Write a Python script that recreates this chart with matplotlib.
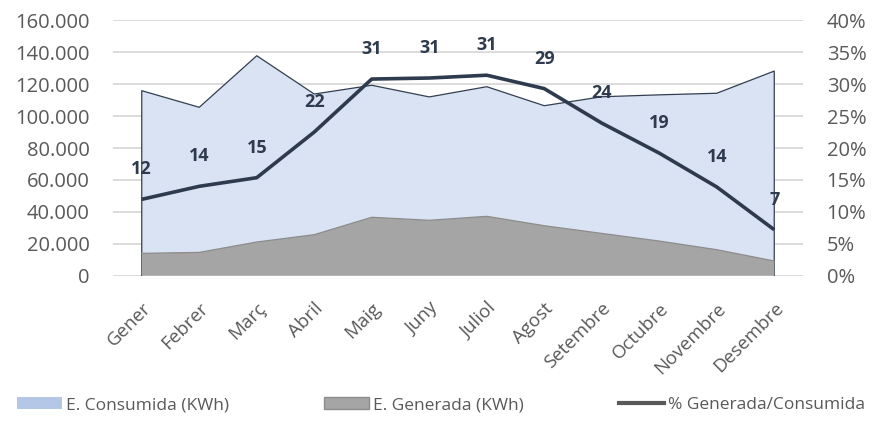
import matplotlib
matplotlib.use("Agg")
import matplotlib.pyplot as plt
from matplotlib.ticker import FuncFormatter, MultipleLocator
from matplotlib.patches import Patch
from matplotlib.lines import Line2D

plt.rcParams['font.family'] = ['Open Sans', 'DejaVu Sans']

months = ["Gener", "Febrer", "Març", "Abril", "Maig", "Juny", "Juliol",
          "Agost", "Setembre", "Octubre", "Novembre", "Desembre"]
consumida = [115900, 105500, 137800, 113800, 119300, 112000, 118400,
             106500, 112100, 113300, 114300, 128200]
generada = [14000, 14600, 21100, 25700, 36600, 34700, 37200,
            31300, 26500, 21700, 16300, 9200]
pct = [11.96, 14.0, 15.35, 22.5, 30.8, 30.96, 31.4, 29.3, 23.9, 19.2, 13.9, 7.2]
pct_labels = ["12", "14", "15", "22", "31", "31", "31", "29", "24", "19", "14", "7"]

x = list(range(len(months)))

fig = plt.figure(figsize=(8.82, 4.25), dpi=100)
ax = fig.add_axes([113/882, 1-275.7/425, (803-113)/882, (275.7-20.3)/425])

tick_color = "#595959"
ax.fill_between(x, 0, consumida, facecolor="#DAE3F3", edgecolor="none", zorder=2)
ax.plot([x[0]] + x + [x[-1]], [0] + consumida + [0], color="#333F50", lw=0.9, zorder=3)
ax.fill_between(x, 0, generada, facecolor="#A5A5A5", edgecolor="none", zorder=4)
ax.plot(x, generada, color="#8C8C8C", lw=0.9, zorder=5)

ax.set_xlim(-0.5, len(months) - 0.5)
ax.set_ylim(0, 160000)
ax.yaxis.set_major_locator(MultipleLocator(20000))
ax.yaxis.set_major_formatter(FuncFormatter(lambda v, p: f"{int(v):,}".replace(",", ".")))
ax.grid(axis='y', color="#D9D9D9", lw=1.3, zorder=0)
ax.set_axisbelow(True)
for s in ax.spines.values():
    s.set_visible(False)
ax.tick_params(axis='y', length=0, pad=17, labelsize=14.5, labelcolor=tick_color)
ax.tick_params(axis='x', length=0, pad=17, labelsize=13.5, labelcolor=tick_color)
ax.set_xticks(x)
ax.set_xticklabels(months, rotation=45, ha='right', rotation_mode='anchor')

ax2 = ax.twinx()
ax2.set_ylim(0, 40)
ax2.yaxis.set_major_locator(MultipleLocator(5))
ax2.yaxis.set_major_formatter(FuncFormatter(lambda v, p: f"{int(v)}%"))
for s in ax2.spines.values():
    s.set_visible(False)
ax2.tick_params(axis='y', length=0, pad=17, labelsize=14.5, labelcolor=tick_color)
line_color = "#2E3A4E"
ax2.plot(x, pct, color=line_color, lw=2.6, zorder=6, solid_capstyle='butt')
for xi, yi, lab in zip(x, pct, pct_labels):
    ax2.annotate(lab, (xi, yi), xytext=(0, 30), textcoords='offset pixels',
                 ha='center', va='center', fontsize=13, fontweight='bold',
                 color="#2E3A4E", zorder=7)

handles = [
    Patch(facecolor="#B4C7E7", edgecolor="none"),
    Patch(facecolor="#A5A5A5", edgecolor="#8C8C8C"),
    Line2D([0], [0], color="#595959", lw=3),
]
labels = ["E. Consumida (KWh)", "E. Generada (KWh)", "% Generada/Consumida"]
fig.legend(handles, labels, loc='center', bbox_to_anchor=(0.5, 1-405/425), ncol=3,
           frameon=False, fontsize=12.5, labelcolor=tick_color, columnspacing=5.5,
           handlelength=2.6, handletextpad=0.2)

fig.savefig("out.png", dpi=100)
